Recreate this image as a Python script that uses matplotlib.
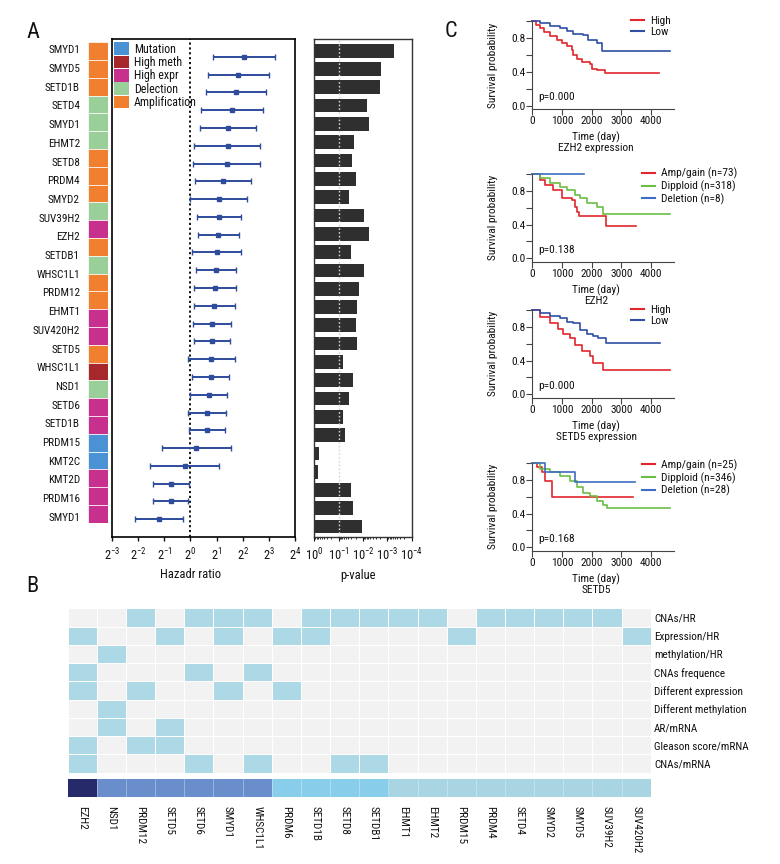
import numpy as np
import matplotlib
matplotlib.use('Agg')
import matplotlib.pyplot as plt
from matplotlib import font_manager as fm
from matplotlib.patches import Patch
from matplotlib.lines import Line2D
from matplotlib.colors import ListedColormap, to_rgb

# ---- choose a narrow / condensed sans font if one is installed ----
_entries = fm.fontManager.ttflist
_narrow = None
_stretch = 'normal'
for cand in ['Liberation Sans Narrow', 'Roboto Condensed', 'Open Sans Condensed',
             'Noto Sans Condensed', 'DejaVu Sans Condensed']:
    if any(f.name == cand for f in _entries):
        _narrow = cand
        break
if _narrow is None:
    for f in _entries:
        fn = f.fname.lower()
        if ('narrow' in fn or 'condensed' in fn) and 'bold' not in fn and 'italic' not in fn \
                and 'serif' not in fn and 'mono' not in fn and 'semi' not in fn and 'extra' not in fn:
            _narrow = f.name
            _stretch = f.stretch if isinstance(f.stretch, str) else 'condensed'
            break
NARROW_FOUND = _narrow is not None
FONT = _narrow if NARROW_FOUND else 'Liberation Sans'
SC = 1.0 if NARROW_FOUND else 0.86   # shrink text when no narrow face exists

plt.rcParams['font.family'] = [FONT, 'DejaVu Sans']
plt.rcParams['font.stretch'] = _stretch
plt.rcParams['mathtext.fontset'] = 'custom'
plt.rcParams['mathtext.rm'] = FONT
plt.rcParams['mathtext.it'] = FONT + ':italic'
plt.rcParams['mathtext.bf'] = FONT + ':bold'

W, H = 780, 864

# ---------------- Panel A data ----------------
gene_labels = ['SMYD1', 'SMYD5', 'SETD1B', 'SETD4', 'SMYD1', 'EHMT2', 'SETD8', 'PRDM4',
               'SMYD2', 'SUV39H2', 'EZH2', 'SETDB1', 'WHSC1L1', 'PRDM12', 'EHMT1',
               'SUV420H2', 'SETD5', 'WHSC1L1', 'NSD1', 'SETD6', 'SETD1B', 'PRDM15',
               'KMT2C', 'KMT2D', 'PRDM16', 'SMYD1']
alteration = ['Amplification', 'Amplification', 'Amplification', 'Delection', 'Delection',
              'Delection', 'Amplification', 'Amplification', 'Amplification', 'Delection',
              'High expr', 'Amplification', 'Delection', 'Amplification', 'Amplification',
              'High expr', 'High expr', 'Amplification', 'High meth', 'Delection',
              'High expr', 'High expr', 'Mutation', 'Mutation', 'High expr', 'High expr',
              'High expr']
alt_types = ['Mutation', 'High meth', 'High expr', 'Delection', 'Amplification']
alt_colors = ['#4A92D3', '#A6282D', '#C7308D', '#9ACF99', '#F07F2F']

hr_est = [4.17, 3.56, 3.36, 2.99, 2.71, 2.69, 2.64, 2.38, 2.14, 2.13, 2.07, 2.00, 1.95,
          1.93, 1.89, 1.79, 1.78, 1.74, 1.72, 1.62, 1.57, 1.56, 1.17, 0.86, 0.60, 0.59, 0.44]
hr_low = [1.83, 1.58, 1.53, 1.32, 1.30, 1.11, 1.07, 1.13, 1.00, 1.18, 1.21, 1.04, 1.15,
          1.10, 1.10, 1.07, 1.09, 0.94, 1.04, 1.00, 0.95, 0.97, 0.47, 0.34, 0.37, 0.37, 0.23]
hr_high = [9.38, 8.06, 7.46, 6.82, 5.62, 6.41, 6.36, 4.96, 4.53, 3.81, 3.58, 3.84, 3.34,
           3.36, 3.29, 2.95, 2.89, 3.29, 2.81, 2.62, 2.60, 2.50, 2.93, 2.16, 0.97, 0.94, 0.82]
p_values = [5.4e-4, 1.8e-3, 2.1e-3, 6.9e-3, 5.5e-3, 0.023, 0.028, 0.019, 0.039, 8.9e-3,
            5.6e-3, 0.030, 9.1e-3, 0.015, 0.017, 0.020, 0.018, 0.066, 0.026, 0.038, 0.066,
            0.055, 0.66, 0.71, 0.031, 0.026, 0.011]

# ---------------- Panel B data ----------------
hm_genes = ['EZH2', 'NSD1', 'PRDM12', 'SETD5', 'SETD6', 'SMYD1', 'WHSC1L1', 'PRDM6', 'SETD1B',
            'SETD8', 'SETDB1', 'EHMT1', 'EHMT2', 'PRDM15', 'PRDM4', 'SETD4', 'SMYD2', 'SMYD5',
            'SUV39H2', 'SUV420H2']
hm_rows = ['CNAs/HR', 'Expression/HR', 'methylation/HR', 'CNAs frequence',
           'Different expression', 'Different methylation', 'AR/mRNA',
           'Gleason score/mRNA', 'CNAs/mRNA']
cnas_hr =         [0, 0, 1, 0, 1, 1, 1, 0, 1, 1, 1, 1, 1, 0, 1, 1, 1, 1, 1, 0]
expression_hr =   [1, 0, 0, 1, 0, 1, 0, 1, 1, 0, 0, 0, 0, 1, 0, 0, 0, 0, 0, 1]
methylation_hr =  [0, 1, 0, 0, 0, 0, 0, 0, 0, 0, 0, 0, 0, 0, 0, 0, 0, 0, 0, 0]
cnas_freq =       [1, 0, 0, 0, 1, 0, 1, 0, 0, 0, 0, 0, 0, 0, 0, 0, 0, 0, 0, 0]
diff_expr =       [1, 0, 1, 0, 0, 1, 0, 1, 0, 0, 0, 0, 0, 0, 0, 0, 0, 0, 0, 0]
diff_meth =       [0, 1, 0, 0, 0, 0, 0, 0, 0, 0, 0, 0, 0, 0, 0, 0, 0, 0, 0, 0]
ar_mrna =         [0, 1, 0, 1, 0, 0, 0, 0, 0, 0, 0, 0, 0, 0, 0, 0, 0, 0, 0, 0]
gleason_mrna =    [1, 0, 1, 1, 0, 0, 0, 0, 0, 0, 0, 0, 0, 0, 0, 0, 0, 0, 0, 0]
cnas_mrna =       [1, 0, 0, 0, 1, 0, 1, 0, 0, 1, 1, 0, 0, 0, 0, 0, 0, 0, 0, 0]
score_colors = {1: '#A9D5E3', 2: '#88CDEA', 3: '#6A8ECB', 5: '#262A6B'}

# ---------------- Panel C data ----------------
km1_high_t = [0, 120, 258, 400, 596, 820, 1000, 1157, 1326, 1382, 1494, 1663, 1944, 2000, 2169, 2449, 4270]
km1_high_s = [1.0, 0.96, 0.92, 0.87, 0.83, 0.78, 0.74, 0.71, 0.66, 0.60, 0.55, 0.52, 0.50, 0.43, 0.42, 0.39, 0.39]
km1_low_t = [0, 258, 596, 933, 1157, 1382, 1720, 1888, 2169, 2360, 4640]
km1_low_s = [1.0, 0.98, 0.95, 0.92, 0.89, 0.85, 0.84, 0.78, 0.74, 0.65, 0.65]

km2_amp_t = [0, 258, 427, 708, 989, 1326, 1438, 1494, 1584, 2472, 3494]
km2_amp_s = [1.0, 0.93, 0.87, 0.81, 0.71, 0.69, 0.61, 0.55, 0.50, 0.38, 0.38]
km2_dip_t = [0, 258, 596, 933, 1157, 1438, 1607, 1831, 2169, 2371, 2393, 4640]
km2_dip_s = [1.0, 0.95, 0.89, 0.85, 0.81, 0.75, 0.71, 0.66, 0.61, 0.57, 0.53, 0.53]
km2_del_t = [0, 1742]
km2_del_s = [1.0, 1.0]

km3_high_t = [0, 258, 596, 876, 1045, 1270, 1438, 1663, 1944, 2056, 2371, 4640]
km3_high_s = [1.0, 0.92, 0.84, 0.78, 0.72, 0.67, 0.59, 0.51, 0.45, 0.37, 0.29, 0.29]
km3_low_t = [0, 258, 596, 933, 1157, 1382, 1607, 1831, 2056, 2225, 2472, 4303]
km3_low_s = [1.0, 0.96, 0.93, 0.90, 0.86, 0.84, 0.76, 0.72, 0.69, 0.67, 0.61, 0.61]

km4_amp_t = [0, 146, 315, 427, 652, 3404]
km4_amp_s = [1.0, 0.95, 0.89, 0.79, 0.60, 0.60]
km4_dip_t = [0, 258, 596, 933, 1270, 1494, 1720, 1944, 2169, 2393, 2506, 4640]
km4_dip_s = [1.0, 0.93, 0.89, 0.85, 0.79, 0.71, 0.65, 0.61, 0.55, 0.50, 0.47, 0.47]
km4_del_t = [0, 427, 1438, 3461]
km4_del_s = [1.0, 0.89, 0.77, 0.77]

# ---------------- helpers ----------------
def rect(l, t, r, b):
    return [l / W, 1 - b / H, (r - l) / W, (b - t) / H]

def fx(x):
    return x / W

def fy(y):
    return 1 - y / H

def fs(v):
    return v * SC

fig = plt.figure(figsize=(W / 100, H / 100), dpi=100)
fig.patch.set_facecolor('white')

LBL = 8.0
KMF = 8.2
TXT = '#111111'
plt.rcParams['text.color'] = TXT
plt.rcParams['xtick.color'] = TXT
plt.rcParams['ytick.color'] = TXT

# ---------------- Panel A: strip ----------------
n_rows = len(alteration)
rows = np.arange(n_rows)
cmap_alt = dict(zip(alt_types, alt_colors))

ax_strip = fig.add_axes(rect(88.3, 42.3, 107.7, 522.7))
ax_strip.barh(rows, [1] * n_rows, height=1.0, left=0,
              color=[cmap_alt[a] for a in alteration], edgecolor='white', linewidth=0.5)
ax_strip.set_xlim(0, 1)
ax_strip.set_ylim(n_rows - 0.5, -0.5)
ax_strip.axis('off')

ax_lab = fig.add_axes(rect(88.3, 42.3, 107.7, 522.7))
ax_lab.patch.set_visible(False)
ax_lab.set_ylim(25.31, -0.374)
ax_lab.set_yticks(np.arange(len(gene_labels)))
ax_lab.set_yticklabels(gene_labels, fontsize=fs(LBL), color=TXT)
ax_lab.tick_params(axis='y', length=0, pad=6)
ax_lab.set_xticks([])
for s in ax_lab.spines.values():
    s.set_visible(False)

# ---------------- Panel A: forest ----------------
ax_f = fig.add_axes(rect(112, 39, 295, 537))
est = np.array(hr_est)
lo = np.array(hr_low)
hi = np.array(hr_high)
ax_f.errorbar(est, rows, xerr=[est - lo, hi - est], fmt='s', color='#2E4C9C',
              ms=3, capsize=2, elinewidth=1.4, capthick=1.0)
ax_f.set_xscale('log', base=2)
ax_f.set_xlim(2 ** -3, 2 ** 4)
ax_f.set_ylim(27, -1)
ax_f.axvline(1, color='black', ls=(0, (1.2, 1.5)), lw=1.3, zorder=0)
ax_f.set_yticks([])
xt = [2.0 ** k for k in range(-3, 5)]
ax_f.set_xticks(xt)
ax_f.set_xticklabels([r'$\mathregular{2^{%d}}$' % k for k in range(-3, 5)], fontsize=fs(9))
ax_f.minorticks_off()
ax_f.tick_params(axis='x', direction='out', length=3, width=1, pad=4)
for s in ax_f.spines.values():
    s.set_linewidth(1.2)
leg_handles = [Patch(facecolor=c, edgecolor='none', label=t) for t, c in zip(alt_types, alt_colors)]
ax_f.legend(handles=leg_handles, loc='upper left',
            bbox_to_anchor=(fx(114.3), fy(42.5)), bbox_transform=fig.transFigure,
            frameon=False, fontsize=fs(8.6), borderpad=0, borderaxespad=0,
            handlelength=1.25 / SC, handleheight=1.25 / SC, labelspacing=0.0,
            handletextpad=0.4)

# ---------------- Panel A: p-values ----------------
ax_p = fig.add_axes(rect(314.3, 39, 411.7, 536.7))
ax_p.barh(rows, -np.log10(np.array(p_values)), height=0.75, color='#2F2F2F')
ax_p.set_xlim(0, 4)
ax_p.set_ylim(26.55, -0.64)
ax_p.axvline(1, color='#d5d5d5', ls=(0, (1.2, 1.5)), lw=1.0)
ax_p.set_yticks([])
ax_p.set_xticks(range(5))
ax_p.set_xticklabels([r'$\mathregular{10^{0}}$'] + [r'$\mathregular{10^{-%d}}$' % k for k in range(1, 5)],
                     fontsize=fs(9) if NARROW_FOUND else 6.6)
minor = [-np.log10(m * 10.0 ** -k) for k in range(1, 5) for m in range(2, 10)]
ax_p.set_xticks(minor, minor=True)
ax_p.tick_params(axis='x', which='major', direction='out', length=3, pad=4)
ax_p.tick_params(axis='x', which='minor', direction='out', length=1.5)
for s in ax_p.spines.values():
    s.set_linewidth(1.0)
    s.set_color('#333333')

fig.text(fx(191), fy(575), 'Hazadr ratio', fontsize=fs(9), ha='center', va='center')
fig.text(fx(358), fy(575), 'p-value', fontsize=fs(9), ha='center', va='center')

# ---------------- Panel B ----------------
hm = np.array([cnas_hr, expression_hr, methylation_hr, cnas_freq, diff_expr,
               diff_meth, ar_mrna, gleason_mrna, cnas_mrna])
ax_h = fig.add_axes(rect(67.7, 608.3, 650.7, 772.7))
ax_h.pcolormesh(hm, cmap=ListedColormap(['#F2F2F2', '#ADD8E6']), vmin=0, vmax=1,
                edgecolors='white', linewidth=0.6)
ax_h.set_xlim(0, len(hm_genes))
ax_h.set_ylim(len(hm_rows), 0)
ax_h.set_xticks([])
ax_h.yaxis.tick_right()
ax_h.set_yticks(np.arange(len(hm_rows)) + 0.5)
ax_h.set_yticklabels(hm_rows, fontsize=fs(LBL), color=TXT)
ax_h.tick_params(axis='y', length=0, pad=2.5)
for s in ax_h.spines.values():
    s.set_visible(False)

counts = hm.sum(axis=0)
score_rgb = np.array([[to_rgb(score_colors[int(c)]) for c in counts]])
ax_s = fig.add_axes(rect(67.7, 779.3, 650.7, 797.3))
ax_s.imshow(score_rgb, aspect='auto', extent=(0, len(hm_genes), 1, 0))
for i in range(1, len(hm_genes)):
    ax_s.axvline(i, color='white', lw=0.4, alpha=0.6)
ax_s.set_xlim(0, len(hm_genes))
ax_s.set_yticks([])
ax_s.set_xticks(np.arange(len(hm_genes)) + 0.5)
ax_s.set_xticklabels(hm_genes, rotation=-90, fontsize=fs(LBL), va='top', ha='center', color=TXT)
ax_s.tick_params(axis='x', length=0, pad=6.5)
for s in ax_s.spines.values():
    s.set_visible(False)

# ---------------- Panel C ----------------
RED = '#E3262B'
BLUE = '#2F4FA4'
BLUE2 = '#3E6CC0'
GREEN = '#6CBD45'

km_specs = [
    (21.5, 109, [(km1_high_t, km1_high_s, RED, 'High'), (km1_low_t, km1_low_s, BLUE, 'Low')],
     'p=0.000', 'EZH2 expression', 630.7, 22.3),
    (174, 261.7, [(km2_amp_t, km2_amp_s, RED, 'Amp/gain (n=73)'),
                  (km2_dip_t, km2_dip_s, GREEN, 'Dipploid (n=318)'),
                  (km2_del_t, km2_del_s, BLUE2, 'Deletion (n=8)')],
     'p=0.138', 'EZH2', 641.7, 174.3),
    (310, 397.7, [(km3_high_t, km3_high_s, RED, 'High'), (km3_low_t, km3_low_s, BLUE, 'Low')],
     'p=0.000', 'SETD5 expression', 630.7, 311.3),
    (463, 550.7, [(km4_amp_t, km4_amp_s, RED, 'Amp/gain (n=25)'),
                  (km4_dip_t, km4_dip_s, GREEN, 'Dipploid (n=346)'),
                  (km4_del_t, km4_del_s, BLUE2, 'Deletion (n=28)')],
     'p=0.168', 'SETD5', 641.7, 465.7),
]

for top, bot, curves, ptxt, subtitle, leg_x, leg_y in km_specs:
    ax = fig.add_axes(rect(532.3, top, 674.3, bot))
    handles = []
    for t, s, c, lab in curves:
        ax.step(t, s, where='post', color=c, lw=1.2, clip_on=False)
        handles.append(Line2D([], [], color=c, lw=1.5, label=lab))
    ax.set_xlim(0, 4790)
    ax.set_ylim(-0.04, 1.0)
    ax.set_xticks([0, 1000, 2000, 3000, 4000])
    ax.set_yticks([0.0, 0.4, 0.8])
    ax.set_yticklabels(['0.0', '0.4', '0.8'])
    ax.set_yticks([0.2, 0.6, 1.0], minor=True)
    ax.tick_params(axis='both', which='both', labelsize=fs(KMF), length=4, width=0.8,
                   color='#444444', pad=1.0)
    for sp in ['top', 'right']:
        ax.spines[sp].set_visible(False)
    for sp in ['left', 'bottom']:
        ax.spines[sp].set_linewidth(0.8)
        ax.spines[sp].set_color('#444444')
    ax.text(0.042, 0.137, ptxt, transform=ax.transAxes, fontsize=fs(KMF), ha='left', va='center')
    fig.text(fx(493.3), fy((top + bot) / 2), 'Survival probability', rotation=90,
             fontsize=fs(KMF), ha='center', va='center')
    fig.text(fx(596), fy(bot + 33.3), 'Time (day)\n' + subtitle, fontsize=fs(KMF),
             ha='center', va='center', multialignment='center', linespacing=0.98)
    fig.legend(handles=handles, loc='upper left',
               bbox_to_anchor=(fx(leg_x), fy(leg_y - 6.5)), bbox_transform=fig.transFigure,
               frameon=False, fontsize=fs(KMF), borderpad=0, borderaxespad=0,
               handlelength=1.2 / SC, handletextpad=0.5, labelspacing=0.12 / SC)

# ---------------- panel letters ----------------
fig.text(fx(33), fy(32.5), 'A', fontsize=16, ha='center', va='center')
fig.text(fx(32.5), fy(587), 'B', fontsize=16, ha='center', va='center')
fig.text(fx(451), fy(31.7), 'C', fontsize=16, ha='center', va='center')

fig.savefig('out.png', dpi=100, facecolor='white')
